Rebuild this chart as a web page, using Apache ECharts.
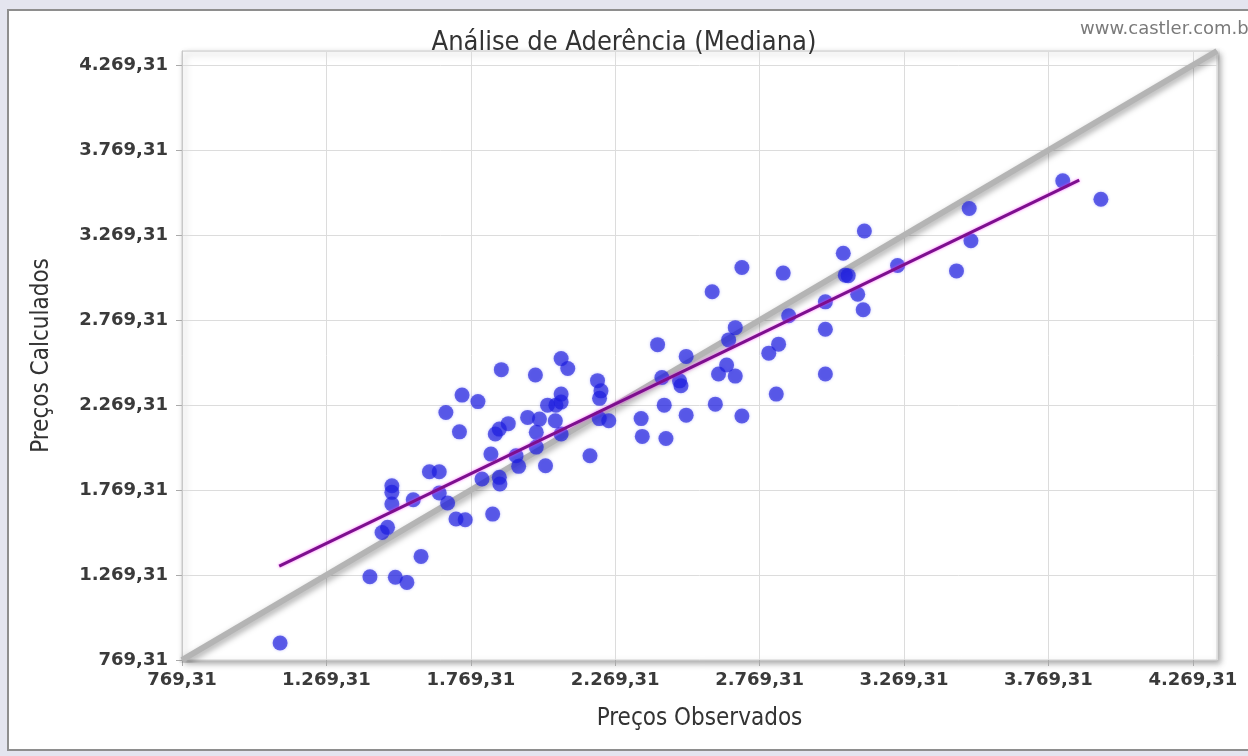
<!DOCTYPE html>
<html>
<head>
<meta charset="utf-8">
<script src="https://cdn.jsdelivr.net/npm/echarts@6/dist/echarts.min.js"></script>
<style>
html,body{margin:0;padding:0;background:#e4e5ef;}
#chart{width:1248px;height:756px;}
</style>
</head>
<body>
<div id="chart"></div>
<script>
// Observed prices (x) and calculated prices (y)
const obsX = [1109,1420,1508,1548,1597,1462,1481,1496,1496,1496,1570,1626,1660,1660,1689,1718,1750,1845,1808,1868,
  1870,1839,1926,1935,1854,1868,1899,1966,2007,1996,1996,2028,2062,2082,2035,2064,2082,2082,2182,1875,
  1993,2082,2105,2208,2220,2215,2214,2247,1739,1794,1683,1730,2359,2363,2445,2439,2416,2515,2431,2492,
  2497,2515,2616,2708,2605,2708,2685,2662,2655,2627,2685,2801,2835,2827,2851,2870,2997,2997,2997,3059,
  3066,3076,3109,3128,3132,3247,3451,3495,3501,3819,3951];
const calcY = [869,1259,1256,1226,1379,1520,1550,1795,1756,1687,1712,1877,1877,1752,1693,1599,1595,1628,1834,1844,
  1805,1981,1971,1909,2099,2128,2160,2197,2187,2109,2022,1912,2177,2099,2269,2269,2287,2334,1971,2478,
  2446,2543,2485,2413,2353,2309,2190,2177,2328,2290,2226,2112,2190,2085,2073,2269,2625,2556,2432,2412,
  2383,2210,2275,2205,2936,3079,2725,2653,2505,2452,2440,2575,2628,2334,3046,2795,2877,2716,2452,3163,
  3034,3031,2922,2830,3294,3091,3059,3426,3236,3589,3481];
// Regression line (purple) endpoints
const fitX = [1106, 3876];
const fitY = [1322, 3593];
// Identity reference line (grey)
const refX = [769.31, 4353];
const refY = [769.31, 4353];
// Axis
const axisMin = 769.31;
const axisMax = 4353;
const axisStep = 500;
const tickLabels = ['769,31','1.269,31','1.769,31','2.269,31','2.769,31','3.269,31','3.769,31','4.269,31'];

const title = 'Análise de Aderência (Mediana)';
const xName = 'Preços Observados';
const yName = 'Preços Calculados';
const watermark = 'www.castler.com.br';

function fmt(v){
  const i = Math.round((v - axisMin) / axisStep);
  if (Math.abs(v - (axisMin + i*axisStep)) < 0.01 && i >= 0 && i < tickLabels.length) return tickLabels[i];
  return '';
}

const chart = echarts.init(document.getElementById('chart'), null, {renderer:'canvas'});
const labelStyle = {color:'#3a3a3a', fontFamily:'DejaVu Sans', fontWeight:'bold', fontSize:18, formatter:fmt, showMaxLabel:false};
const axisCommon = {
  type:'value', min:axisMin, max:axisMax, interval:axisStep,
  nameLocation:'middle',
  nameTextStyle:{color:'#333', fontFamily:'DejaVu Sans Condensed', fontSize:24},
  axisLine:{show:true, lineStyle:{color:'#c8c8c8'}},
  axisTick:{show:true, length:6, lineStyle:{color:'#aaa'}},
  splitLine:{show:true, lineStyle:{color:'#dcdcdc', width:1}},
};
chart.setOption({
  animation:false,
  backgroundColor:'#e4e5ef',
  graphic:[
    {type:'rect', z:-100, shape:{x:8, y:10, width:1280, height:740},
     style:{fill:'#ffffff', stroke:'#8e8e8e', lineWidth:2}},
    {type:'text', z:10, left:1080, top:20,
     style:{text:watermark, fill:'#7a7a7a', font:'18px "DejaVu Sans"'}}
  ],
  title:{text:title, left:'center', top:24,
    textStyle:{color:'#333', fontFamily:'DejaVu Sans Condensed', fontWeight:'normal', fontSize:27}},
  grid:{left:182, right:31, top:51, bottom:96, show:true, backgroundColor:'#fff',
    borderColor:'#d0d0d0', borderWidth:1,
    shadowColor:'rgba(0,0,0,0.35)', shadowBlur:6, shadowOffsetX:3, shadowOffsetY:3},
  xAxis:Object.assign({}, axisCommon, {name:xName, nameGap:47, axisLabel:Object.assign({}, labelStyle, {margin:11})}),
  yAxis:Object.assign({}, axisCommon, {name:yName, nameGap:128, axisLabel:Object.assign({}, labelStyle, {margin:14})}),
  series:[
    {type:'line', data:refX.map((x,i)=>[x, refY[i]]), symbol:'none', z:2,
     lineStyle:{color:'#b4b4b4', width:6, shadowColor:'rgba(0,0,0,0.35)', shadowBlur:6, shadowOffsetX:1, shadowOffsetY:3}},
    {type:'scatter', data:obsX.map((x,i)=>[x, calcY[i]]), symbolSize:15, z:3,
     itemStyle:{color:'rgba(28,28,218,0.82)', shadowColor:'rgba(40,40,255,0.4)', shadowBlur:3}},
    {type:'line', data:fitX.map((x,i)=>[x, fitY[i]]), symbol:'none', z:4,
     lineStyle:{color:'#7d0f8e', width:3, shadowColor:'rgba(255,60,255,0.7)', shadowBlur:3}}
  ]
});
</script>
</body>
</html>
